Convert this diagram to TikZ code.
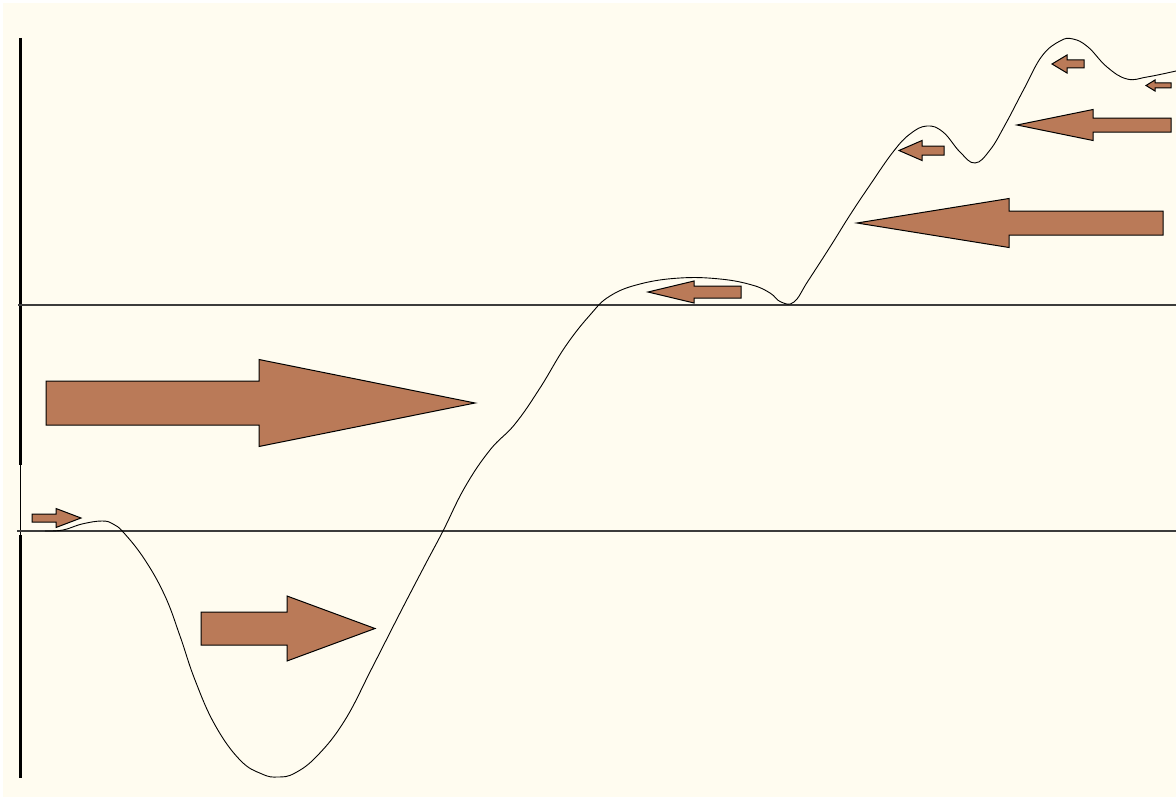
\documentclass[tikz,border=0pt]{standalone}
\usepackage{tikz}
\definecolor{paper}{RGB}{255,252,240}
\definecolor{clay}{RGB}{186,122,88}
\definecolor{rule}{RGB}{60,60,60}
\tikzset{
  axisv/.style={draw=black, line width=3pt},
  level/.style={draw=rule, line width=1.1pt},
  path/.style={draw=black, line width=0.9pt, smooth, tension=0.7},
  push/.style={draw=black, fill=clay, line width=1pt, line join=miter},
}
% block arrow: tail x, head base x, tip x, centre y, shaft half height, head half height
\newcommand\blockarrow[6]{%
  \path[push] (#1,#4-#5) -- (#2,#4-#5) -- (#2,#4-#6) -- (#3,#4)
    -- (#2,#4+#6) -- (#2,#4+#5) -- (#1,#4+#5) -- cycle;}

\begin{document}
\begin{tikzpicture}[x=1pt, y=-1pt]
\fill[white] (0,0) rectangle (1176,800);
\fill[paper] (3,3) rectangle (1176,797);
\useasboundingbox (0,0) rectangle (1176,800);
% axes
\draw[axisv] (20,38) -- (20,465);
\draw[black, line width=1pt] (20,465) -- (20,535);
\draw[axisv] (20,535) -- (20,778);
\draw[level] (18,305) -- (1176,305);
\draw[level] (17,531) -- (1176,531);
% energy curve
\draw[path] plot coordinates {(45,531) (63,530) (82,524) (102,521) (113,524)
  (124,533) (145,560) (165,596) (180,636) (195,680) (215,725) (240,760)
  (262,774) (278,777) (295,773) (318,755) (345,720) (372,668) (400,613)
  (425,565) (443,531) (465,487) (490,450) (515,424) (540,388) (565,347)
  (590,315) (610,296) (640,284) (680,278) (720,279) (752,285) (770,293)
  (781,302) (794,302) (808,281) (830,247) (850,215) (870,185) (893,152)
  (910,134) (927,126) (943,132) (960,152) (975,163) (990,150) (1005,125)
  (1025,87) (1042,56) (1060,41) (1073,39) (1088,47) (1107,67) (1127,79)
  (1147,77) (1176,71)};
% arrows
\blockarrow{46}{259}{475}{403}{22}{43.5}
\blockarrow{201}{287}{375}{628.5}{16.5}{32.5}
\blockarrow{32}{56}{81}{518}{4}{9.5}
\blockarrow{741}{694}{648}{292}{6}{11}
\blockarrow{1163}{1009}{857}{223}{12}{24.5}
\blockarrow{944}{922}{899}{150.5}{4.5}{10}
\blockarrow{1171}{1093}{1017}{125}{7}{15.5}
\blockarrow{1084}{1067}{1052}{64}{4}{9}
\blockarrow{1171}{1155}{1146}{85.5}{2.5}{5.5}
\end{tikzpicture}
\end{document}
